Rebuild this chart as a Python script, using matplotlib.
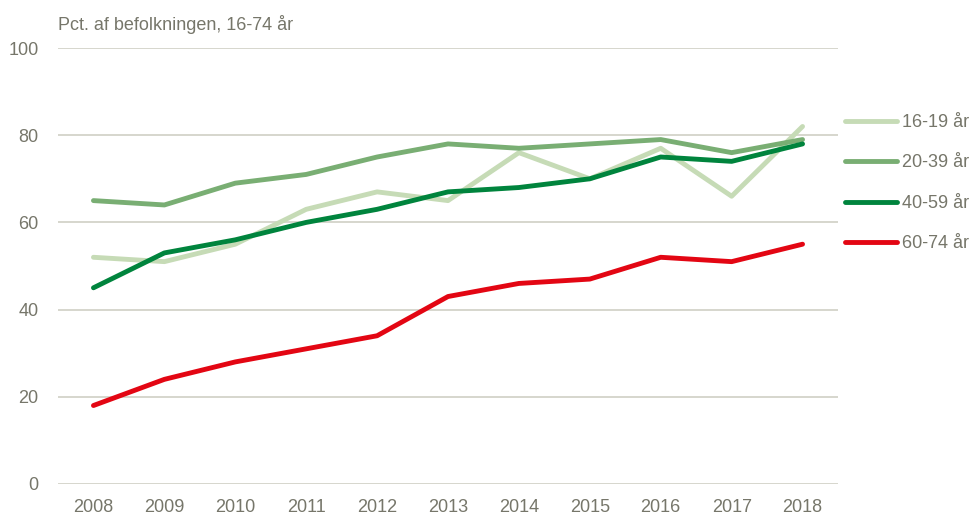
import matplotlib.pyplot as plt

plt.rcParams['font.family'] = ['Liberation Sans Narrow', 'Liberation Sans', 'DejaVu Sans']

years = [2008, 2009, 2010, 2011, 2012, 2013, 2014, 2015, 2016, 2017, 2018]
age_16_19 = [52, 51, 55, 63, 67, 65, 76, 70, 77, 66, 82]
age_20_39 = [65, 64, 69, 71, 75, 78, 77, 78, 79, 76, 79]
age_40_59 = [45, 53, 56, 60, 63, 67, 68, 70, 75, 74, 78]
age_60_74 = [18, 24, 28, 31, 34, 43, 46, 47, 52, 51, 55]

labels = ["16-19 år", "20-39 år", "40-59 år", "60-74 år"]
colors = ["#c6dbb6", "#79ae73", "#00843d", "#e30613"]
TXT = "#76766a"
FS = 13

fig = plt.figure(figsize=(9.74, 5.17), dpi=100)
ax = fig.add_axes([58 / 974, 33 / 517, 780 / 974, 436 / 517])

for vals, lab, c in zip([age_16_19, age_20_39, age_40_59, age_60_74], labels, colors):
    ax.plot(years, vals, color=c, lw=3.5, label=lab, solid_capstyle='round')

ax.set_xlim(2007.5, 2018.5)
ax.set_ylim(0, 100)
ax.set_yticks(range(0, 101, 20))
ax.set_xticks(years)
ax.grid(axis='y', color="#cfcfc5", lw=1.2)
ax.set_axisbelow(True)
for s in ax.spines.values():
    s.set_visible(False)
ax.tick_params(length=0, labelsize=FS, colors=TXT)
ax.tick_params(axis='y', pad=14)
ax.tick_params(axis='x', pad=11)

fig.text(58 / 974, 1 - 25 / 517, "Pct. af befolkningen, 16-74 år", fontsize=FS,
         color=TXT, va='center', ha='left')

leg = fig.legend(loc='upper left', bbox_to_anchor=(845 / 974, 1 - 114 / 517), frameon=False,
                 fontsize=FS, handlelength=2.9, handletextpad=0.25, labelspacing=1.3,
                 borderaxespad=0, borderpad=0)
for t in leg.get_texts():
    t.set_color(TXT)

fig.savefig("out.png", dpi=100)
